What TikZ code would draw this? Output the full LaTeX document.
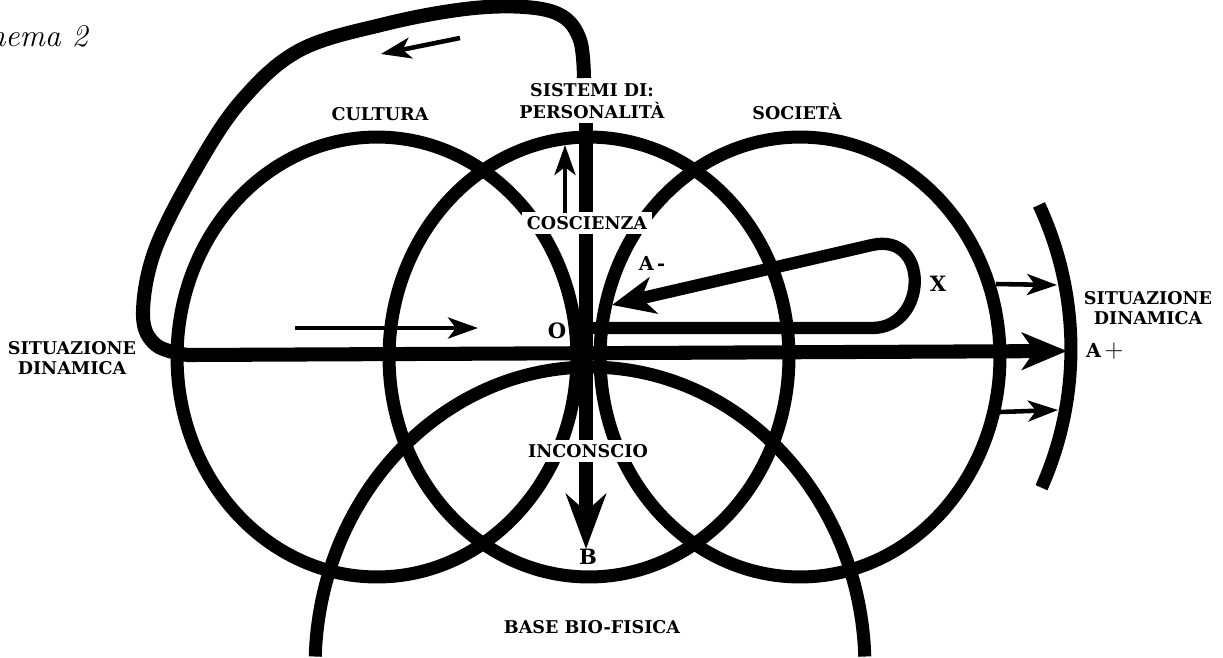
\documentclass[tikz,border=0pt]{standalone}
\usepackage{fontspec}
\newfontfamily\lblfont{DejaVu Serif}
\usetikzlibrary{arrows.meta}

\begin{document}
\begin{tikzpicture}[x=0.02cm,y=0.02cm,
    ring/.style={line width=7.4pt},
    bar/.style={line width=8pt},
    bigarrow/.style={line width=8pt,-{Stealth[length=0.9cm,width=0.74cm,inset=0.25cm]}},
    smallarrow/.style={line width=2.6pt,-{Stealth[length=0.6cm,width=0.42cm,inset=0.16cm]}},
    lbl/.style={font=\lblfont\bfseries\fontsize{10}{11.5}\selectfont,align=center,inner sep=1pt},
    cut/.style={lbl,fill=white,inner sep=2.6pt}]
  \fill[white] (0,0) rectangle (1223,-657);
  \useasboundingbox (0,0) rectangle (1223,-657);
  % the four spheres
  \draw[ring] (377,-357) ellipse[x radius=4cm,y radius=4.4cm];
  \draw[ring] (589,-357) ellipse[x radius=4cm,y radius=4.4cm];
  \draw[ring] (800,-357) ellipse[x radius=4cm,y radius=4.4cm];
  \draw[ring] (590,-667) ++(178:5.5cm and 6cm) arc[start angle=178,end angle=2,x radius=5.5cm,y radius=6cm];
  % boundary of the dynamic situation
  \draw[ring] (730,-349) ++(25:6.82cm) arc[start angle=25,end angle=-24,radius=6.82cm];
  % named points
  \coordinate (top) at (586,-123);
  \coordinate (Btip) at (586,-549);
  \coordinate (Atip) at (1067,-351);
  \coordinate (Ostart) at (590,-328);
  \coordinate (Amtip) at (612,-305);
  % personality axis, down to B
  \draw[bigarrow,-{Stealth[length=1.1cm,width=0.8cm,inset=0.35cm]}] (top) -- (Btip);
  % big loop back to the dynamic situation, then on to A+
  \draw[bigarrow] plot[smooth,tension=0.6] coordinates {(584,-78) (580,-40) (562,-16) (525,-7) (465,-9) (385,-24) (300,-50) (242,-100) (197,-167) (155,-250) (143,-315) (156,-345) (188,-355)} -- (Atip);
  % the loop through X back to O
  \draw[bigarrow,line width=7pt,-{Stealth[length=0.85cm,width=0.74cm,inset=0.25cm]}] (Ostart) -- (872,-328) .. controls (928,-328) and (930,-232) .. (872,-245) -- (Amtip);
  % labels
  \node[font=\itshape\fontsize{18}{18}\selectfont,anchor=base east,inner sep=0pt] (title) at (88,-46) {Schema 2};
  \node[lbl] (cultura) at (380,-114) {CULTURA};
  \node[lbl] (sistemi) at (592,-101) {SISTEMI DI:\\[0.6pt]PERSONALITÀ};
  \node[lbl] (societa) at (797,-111) {SOCIETÀ};
  \node[cut] (coscienza) at (587,-223) {COSCIENZA};
  \node[cut] (inconscio) at (588,-451) {INCONSCIO};
  \node[lbl] (base) at (592,-627) {BASE BIO-FISICA};
  \node[lbl] (sitsx) at (72,-358) {SITUAZIONE\\DINAMICA};
  \node[lbl] (sitdx) at (1148,-308) {SITUAZIONE\\DINAMICA};
  \node[lbl,font=\lblfont\bfseries\fontsize{11}{11}\selectfont] (Aminus) at (652,-263) {A\,-};
  \node[lbl,font=\lblfont\bfseries\fontsize{12}{12}\selectfont] (X) at (938,-284) {X};
  \node[lbl,font=\lblfont\bfseries\fontsize{12}{12}\selectfont] (O) at (557,-331) {O};
  \node[lbl,font=\lblfont\bfseries\fontsize{12}{12}\selectfont] (B) at (588,-557) {B};
  \node[lbl,font=\lblfont\bfseries\fontsize{11}{11}\selectfont,anchor=west] (Aplus) at (1084,-351) {A\,{\fontsize{15}{15}\selectfont$+$}};
  % thin arrows
  \coordinate (c1) at (565,-213); \coordinate (c2) at (565,-145);
  \draw[smallarrow] (c1) -- (c2);
  \coordinate (l1) at (295,-328); \coordinate (l2) at (478,-328);
  \draw[smallarrow] (l1) -- (l2);
  \coordinate (t1) at (460,-38); \coordinate (t2) at (381,-54);
  \draw[smallarrow] (t1) -- (t2);
  \coordinate (r1) at (996,-284); \coordinate (r2) at (1057,-285);
  \draw[smallarrow] (r1) -- (r2);
  \coordinate (r3) at (1000,-412); \coordinate (r4) at (1058,-410);
  \draw[smallarrow] (r3) -- (r4);
\end{tikzpicture}
\end{document}
